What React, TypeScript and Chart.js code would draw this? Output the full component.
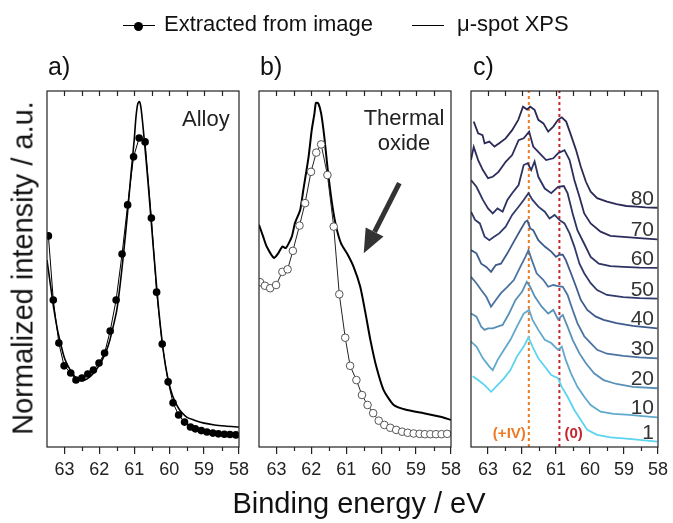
import React, { useEffect, useRef } from "react";
import { Chart, registerables } from "chart.js";
Chart.register(...registerables);

const FONT = "'Liberation Sans', Arial, sans-serif";
const W = 673;
const H = 523;

// axis
const X_MIN = 58;
const X_MAX = 63.5;
const Y_MIN = 0;
const Y_MAX = 100;
const xTickValues = [63, 62, 61, 60, 59, 58];
const topTickValues = [63, 62.5, 62, 61.5, 61, 60.5, 60, 59.5, 59, 58.5];
const minorBottomTicks = [62.5, 61.5, 60.5, 59.5, 58.5];

// panel a) Alloy
const alloyDotE = [63.46, 63.32, 63.16, 63.01, 62.82, 62.67, 62.5, 62.33, 62.17, 62.01, 61.85, 61.69, 61.52, 61.35, 61.19, 61.02, 60.86, 60.69, 60.51, 60.36, 60.2, 60.03, 59.89, 59.73, 59.56, 59.39, 59.25, 59.08, 58.92, 58.75, 58.59, 58.42, 58.26, 58.09];
const alloyDotI = [59.3, 41.3, 29.2, 22.8, 20.8, 18.8, 19.4, 20.5, 21.6, 23.6, 26.4, 32.6, 41.3, 54.2, 68.0, 81.5, 86.8, 85.7, 64.3, 43.5, 28.9, 18.3, 12.4, 9.0, 7.0, 5.6, 5.1, 4.6, 4.2, 3.9, 3.7, 3.6, 3.5, 3.4];
const alloyXpsE = [63.5, 63.4, 63.3, 63.2, 63.1, 63.0, 62.9, 62.8, 62.7, 62.6, 62.5, 62.4, 62.3, 62.2, 62.1, 62.0, 61.9, 61.8, 61.7, 61.6, 61.5, 61.4, 61.3, 61.2, 61.1, 61.0, 60.95, 60.9, 60.85, 60.8, 60.7, 60.6, 60.5, 60.4, 60.3, 60.2, 60.1, 60.0, 59.9, 59.8, 59.7, 59.6, 59.5, 59.3, 59.0, 58.7, 58.4, 58.0];
const alloyXpsI = [52.5, 45.5, 38.5, 32.9, 28.7, 25.0, 22.8, 21.1, 19.7, 18.9, 18.6, 18.9, 19.5, 20.4, 21.6, 23.0, 24.8, 27.0, 30.0, 34.0, 38.5, 46.0, 55.0, 65.0, 76.0, 86.5, 92.8, 96.4, 97.0, 94.7, 84.8, 73.6, 61.5, 49.7, 38.5, 29.5, 22.5, 17.7, 14.3, 12.1, 10.4, 9.3, 8.4, 7.6, 6.7, 6.2, 5.9, 5.6];

// panel b) Thermal oxide
const oxideDotE = [63.47, 63.33, 63.18, 63.01, 62.83, 62.68, 62.53, 62.34, 62.18, 62.01, 61.86, 61.72, 61.54, 61.36, 61.2, 61.03, 60.89, 60.71, 60.55, 60.39, 60.23, 60.07, 59.91, 59.74, 59.57, 59.4, 59.24, 59.07, 58.9, 58.75, 58.59, 58.43, 58.27, 58.11];
const oxideDotI = [46.3, 45.3, 44.6, 45.5, 49.2, 49.9, 55.1, 62.2, 68.5, 77.3, 82.7, 85.0, 76.4, 61.9, 42.9, 30.7, 22.8, 18.8, 14.6, 11.8, 9.5, 7.4, 6.2, 5.4, 4.8, 4.3, 4.0, 3.8, 3.7, 3.6, 3.6, 3.6, 3.6, 3.7];
const oxideXpsE = [63.5, 63.38, 63.28, 63.07, 62.95, 62.83, 62.73, 62.56, 62.47, 62.32, 62.23, 62.08, 61.99, 61.91, 61.87, 61.8, 61.72, 61.63, 61.54, 61.41, 61.29, 61.15, 60.98, 60.79, 60.6, 60.45, 60.31, 60.14, 59.93, 59.64, 59.26, 58.78, 58.3, 58.0];
const oxideXpsI = [62.4, 59.1, 56.3, 53.1, 54.4, 56.3, 55.9, 59.1, 62.9, 66.6, 72.2, 81.5, 89.0, 93.8, 96.7, 96.5, 93.7, 87.2, 78.7, 68.5, 61.9, 57.2, 54.4, 50.6, 45.0, 37.6, 30.1, 22.6, 16.0, 11.8, 10.4, 9.5, 8.5, 7.6];
const arrowFrom = { x: 59.48, y: 74.1 };
const arrowTo = { x: 60.5, y: 54.4 };

// panel c) depth series
const depthLabels = ["80", "70", "60", "50", "40", "30", "20", "10", "1"];
const depthColors = ["#2b2955", "#2c2c5d", "#2e3263", "#303a6c", "#3e5b8c", "#4b73a1", "#5890b8", "#60a8cd", "#5cd4f0"];
const d80E = [63.42, 63.29, 63.16, 63.1, 62.96, 62.81, 62.67, 62.48, 62.29, 62.11, 61.97, 61.85, 61.76, 61.63, 61.52, 61.37, 61.23, 61.08, 60.94, 60.83, 60.7, 60.56, 60.41, 60.27, 60.12, 59.98, 59.79, 59.5, 59.22, 58.93, 58.64, 58.36, 58.02];
const d80I = [91.4, 88.1, 87.6, 85.3, 85.8, 84.4, 85.3, 86.7, 89.0, 91.9, 95.6, 94.8, 95.6, 94.7, 91.9, 90.9, 88.6, 90.0, 91.9, 92.6, 91.4, 87.6, 83.4, 78.7, 74.5, 71.7, 69.9, 68.9, 68.2, 67.7, 67.5, 67.3, 67.2];
const d70E = [63.5, 63.42, 63.29, 63.15, 63.0, 62.86, 62.69, 62.48, 62.29, 62.1, 61.95, 61.79, 61.67, 61.48, 61.29, 61.08, 60.94, 60.75, 60.6, 60.46, 60.31, 60.17, 59.98, 59.69, 59.4, 59.12, 58.83, 58.45, 58.02];
const d70I = [80.6, 84.3, 80.6, 77.8, 75.5, 75.9, 77.3, 80.1, 82.0, 86.2, 86.7, 88.6, 84.4, 82.5, 80.6, 81.1, 82.5, 83.4, 80.6, 75.0, 70.3, 65.6, 62.8, 60.5, 59.3, 59.1, 58.9, 58.6, 58.3];
const d60E = [63.5, 63.34, 63.15, 63.0, 62.86, 62.72, 62.57, 62.43, 62.29, 62.1, 61.95, 61.83, 61.73, 61.63, 61.52, 61.33, 61.14, 60.94, 60.77, 60.66, 60.51, 60.37, 60.17, 59.98, 59.74, 59.4, 59.02, 58.54, 58.02];
const d60I = [75.0, 73.1, 69.4, 67.0, 65.6, 67.0, 66.1, 69.4, 71.3, 73.6, 79.2, 79.7, 77.8, 80.2, 75.9, 72.6, 71.3, 73.1, 73.3, 71.3, 65.6, 60.9, 57.1, 53.4, 51.5, 50.8, 50.6, 50.4, 50.3];
const d50E = [63.5, 63.38, 63.24, 63.1, 62.96, 62.81, 62.67, 62.48, 62.29, 62.1, 61.95, 61.81, 61.69, 61.52, 61.33, 61.19, 61.04, 60.9, 60.75, 60.6, 60.46, 60.31, 60.17, 59.98, 59.79, 59.5, 59.02, 58.54, 58.02];
const d50I = [66.1, 63.8, 62.8, 59.1, 58.1, 59.1, 60.0, 61.9, 65.2, 67.5, 69.4, 71.3, 69.4, 67.5, 66.1, 64.2, 65.2, 63.8, 62.8, 60.0, 56.3, 51.5, 48.8, 46.0, 44.1, 42.7, 42.1, 41.8, 41.7];
const d40E = [63.5, 63.34, 63.2, 63.05, 62.91, 62.77, 62.62, 62.43, 62.24, 62.05, 61.9, 61.84, 61.76, 61.67, 61.52, 61.33, 61.14, 61.0, 60.9, 60.8, 60.71, 60.56, 60.41, 60.27, 60.08, 59.84, 59.6, 59.22, 58.74, 58.02];
const d40I = [55.3, 54.4, 51.5, 50.6, 49.2, 51.1, 51.5, 54.4, 57.7, 60.9, 63.3, 63.6, 61.4, 60.9, 58.1, 56.3, 54.9, 53.4, 54.0, 54.0, 52.5, 48.8, 45.0, 41.3, 38.5, 36.7, 35.7, 34.8, 34.0, 33.3];
const d30E = [63.5, 63.34, 63.2, 63.05, 62.91, 62.77, 62.62, 62.43, 62.24, 62.05, 61.9, 61.81, 61.71, 61.57, 61.37, 61.23, 61.08, 60.94, 60.8, 60.66, 60.51, 60.37, 60.17, 59.98, 59.79, 59.5, 59.02, 58.54, 58.02];
const d30I = [47.8, 46.0, 44.1, 42.2, 39.4, 41.3, 43.2, 45.0, 46.9, 50.6, 53.4, 55.3, 52.5, 48.8, 46.9, 45.0, 45.5, 45.2, 45.0, 42.7, 38.5, 34.8, 31.1, 29.2, 27.3, 26.2, 25.6, 25.2, 24.9];
const d20E = [63.5, 63.34, 63.2, 63.1, 63.0, 62.86, 62.72, 62.57, 62.38, 62.19, 62.0, 61.86, 61.76, 61.62, 61.42, 61.23, 61.08, 60.94, 60.8, 60.66, 60.51, 60.31, 60.12, 59.88, 59.6, 59.22, 58.74, 58.02];
const d20I = [37.5, 36.6, 33.8, 32.9, 33.3, 33.3, 33.8, 34.3, 37.5, 41.3, 43.6, 46.4, 45.0, 42.2, 39.4, 37.5, 38.5, 35.9, 37.1, 33.8, 30.1, 26.3, 23.5, 20.7, 18.8, 17.7, 16.9, 16.5];
const d10E = [63.5, 63.34, 63.15, 62.96, 62.86, 62.72, 62.53, 62.34, 62.15, 61.95, 61.79, 61.69, 61.52, 61.33, 61.14, 60.94, 60.83, 60.71, 60.56, 60.37, 60.17, 59.98, 59.69, 59.31, 58.83, 58.45, 58.02];
const d10I = [29.6, 28.2, 24.9, 22.6, 21.6, 24.4, 27.3, 30.1, 33.8, 37.5, 38.5, 35.7, 32.9, 30.1, 29.2, 27.3, 28.2, 24.4, 20.7, 16.9, 14.1, 11.8, 9.9, 9.3, 9.0, 8.7, 8.3];
const d1E = [63.45, 63.29, 63.1, 62.91, 62.72, 62.53, 62.34, 62.15, 61.95, 61.81, 61.69, 61.52, 61.33, 61.14, 60.94, 60.83, 60.66, 60.46, 60.27, 60.08, 59.79, 59.4, 59.02, 58.54, 58.02];
const d1I = [19.9, 18.8, 17.4, 15.5, 17.4, 19.3, 21.6, 25.4, 28.2, 30.8, 28.2, 24.9, 22.6, 20.2, 19.3, 16.9, 14.1, 10.4, 7.6, 4.8, 3.4, 2.7, 2.4, 2.0, 1.5];
const depthE = [d80E, d70E, d60E, d50E, d40E, d30E, d20E, d10E, d1E];
const depthI = [d80I, d70I, d60I, d50I, d40I, d30I, d20I, d10I, d1I];
const oxidationE = [61.8, 60.9];
const oxidationLabels = ["(+IV)", "(0)"];
const oxidationColors = ["#ee7a22", "#c4262e"];

// layout (pixels)
const PLOT_TOP = 91;
const PLOT_BOTTOM = 447;
const AXIS_H = 34;
const panelLefts = [47, 259, 471];
const PANEL_W = 192;

const pts = (xs: number[], ys: number[]) => xs.map((x, i) => ({ x, y: ys[i] }));

const framePlugin = {
  id: "frame",
  afterDatasetsDraw(chart: any) {
    const { ctx, chartArea: a, scales } = chart;
    const x = scales.x;
    ctx.save();
    ctx.strokeStyle = "#222";
    ctx.lineWidth = 1.2;
    ctx.strokeRect(a.left, a.top, a.right - a.left, a.bottom - a.top);
    ctx.beginPath();
    for (const v of topTickValues) {
      const px = Math.round(x.getPixelForValue(v)) + 0.5;
      ctx.moveTo(px, a.top);
      ctx.lineTo(px, a.top + 5);
    }
    for (const v of minorBottomTicks) {
      const px = Math.round(x.getPixelForValue(v)) + 0.5;
      ctx.moveTo(px, a.bottom);
      ctx.lineTo(px, a.bottom + 4);
    }
    ctx.stroke();
    ctx.restore();
  },
};

const arrowPlugin = {
  id: "arrow",
  afterDatasetsDraw(chart: any) {
    const { ctx, scales } = chart;
    const x0 = scales.x.getPixelForValue(arrowFrom.x);
    const y0 = scales.y.getPixelForValue(arrowFrom.y);
    const x1 = scales.x.getPixelForValue(arrowTo.x);
    const y1 = scales.y.getPixelForValue(arrowTo.y);
    const ang = Math.atan2(y1 - y0, x1 - x0);
    const headL = 24;
    const headW = 10;
    const bx = x1 - headL * Math.cos(ang);
    const by = y1 - headL * Math.sin(ang);
    ctx.save();
    ctx.strokeStyle = "#333";
    ctx.fillStyle = "#333";
    ctx.lineWidth = 5;
    ctx.beginPath();
    ctx.moveTo(x0, y0);
    ctx.lineTo(bx, by);
    ctx.stroke();
    ctx.beginPath();
    ctx.moveTo(x1, y1);
    ctx.lineTo(bx + headW * Math.sin(ang), by - headW * Math.cos(ang));
    ctx.lineTo(bx - headW * Math.sin(ang), by + headW * Math.cos(ang));
    ctx.closePath();
    ctx.fill();
    ctx.restore();
  },
};

const depthLabelPlugin = {
  id: "depthLabels",
  afterDatasetsDraw(chart: any) {
    const { ctx, chartArea: a, scales } = chart;
    ctx.save();
    ctx.font = `21px ${FONT}`;
    ctx.fillStyle = "#333";
    ctx.textAlign = "right";
    ctx.textBaseline = "alphabetic";
    depthLabels.forEach((lab, i) => {
      const ys = depthI[i];
      const py = scales.y.getPixelForValue(ys[ys.length - 1]);
      ctx.fillText(lab, a.right - 4, py - 3);
    });
    ctx.font = `bold 15px ${FONT}`;
    oxidationE.forEach((e, i) => {
      const px = scales.x.getPixelForValue(e);
      ctx.fillStyle = oxidationColors[i];
      ctx.textAlign = i === 0 ? "right" : "left";
      ctx.fillText(oxidationLabels[i], i === 0 ? px - 3 : px + 5, a.bottom - 9);
    });
    ctx.restore();
  },
};

function baseOptions(left: number) {
  return {
    responsive: false,
    animation: false as const,
    events: [] as any[],
    layout: {
      padding: { left, right: W - left - PANEL_W, top: PLOT_TOP, bottom: H - PLOT_BOTTOM - AXIS_H },
    },
    plugins: { legend: { display: false }, tooltip: { enabled: false } },
    scales: {
      x: {
        type: "linear" as const,
        min: X_MIN,
        max: X_MAX,
        reverse: true,
        afterBuildTicks: (s: any) => {
          s.ticks = xTickValues.map((v) => ({ value: v }));
        },
        afterFit: (s: any) => {
          s.height = AXIS_H;
        },
        grid: { display: true, drawOnChartArea: false, drawTicks: true, tickLength: 7, color: "#222", lineWidth: 1.2 },
        border: { display: false },
        ticks: { font: { family: FONT, size: 18 }, color: "#222", padding: 5, maxRotation: 0, autoSkip: false },
      },
      y: { display: false, min: Y_MIN, max: Y_MAX },
    },
  };
}

export default function App() {
  const refA = useRef<HTMLCanvasElement>(null);
  const refB = useRef<HTMLCanvasElement>(null);
  const refC = useRef<HTMLCanvasElement>(null);

  useEffect(() => {
    document.body.style.margin = "0";
    const charts: Chart[] = [];
    charts.push(
      new Chart(refA.current!, {
        type: "line",
        data: {
          datasets: [
            {
              data: pts(alloyDotE, alloyDotI),
              borderColor: "#000",
              borderWidth: 1,
              pointRadius: 3.8,
              pointBackgroundColor: "#000",
              pointBorderColor: "#000",
              pointBorderWidth: 0,
              tension: 0,
            },
            {
              data: pts(alloyXpsE, alloyXpsI),
              borderColor: "#000",
              borderWidth: 1.6,
              pointRadius: 0,
              tension: 0.3,
            },
          ],
        },
        options: baseOptions(panelLefts[0]) as any,
        plugins: [framePlugin],
      })
    );
    charts.push(
      new Chart(refB.current!, {
        type: "line",
        data: {
          datasets: [
            {
              data: pts(oxideDotE, oxideDotI),
              borderColor: "#222",
              borderWidth: 1,
              pointRadius: 3.8,
              pointBackgroundColor: "#fff",
              pointBorderColor: "#555",
              pointBorderWidth: 1,
              tension: 0,
            },
            {
              data: pts(oxideXpsE, oxideXpsI),
              borderColor: "#000",
              borderWidth: 2,
              pointRadius: 0,
              tension: 0.2,
            },
          ],
        },
        options: baseOptions(panelLefts[1]) as any,
        plugins: [framePlugin, arrowPlugin],
      })
    );
    const cSets: any[] = depthE.map((es, i) => ({
      data: pts(es, depthI[i]),
      borderColor: depthColors[i],
      borderWidth: 1.8,
      pointRadius: 0,
      tension: 0,
    }));
    oxidationE.forEach((e, i) => {
      cSets.push({
        data: [
          { x: e, y: Y_MIN },
          { x: e, y: Y_MAX },
        ],
        borderColor: oxidationColors[i],
        borderWidth: 2,
        borderDash: [3, 3],
        pointRadius: 0,
      });
    });
    charts.push(
      new Chart(refC.current!, {
        type: "line",
        data: { datasets: cSets },
        options: baseOptions(panelLefts[2]) as any,
        plugins: [framePlugin, depthLabelPlugin],
      })
    );
    return () => charts.forEach((c) => c.destroy());
  }, []);

  const txt = (s: React.CSSProperties): React.CSSProperties => ({
    position: "absolute",
    fontFamily: FONT,
    whiteSpace: "nowrap",
    lineHeight: 1,
    color: "#111",
    ...s,
  });
  const cv: React.CSSProperties = { position: "absolute", left: 0, top: 0 };

  return (
    <div style={{ position: "absolute", left: 0, top: 0, width: W, height: H, background: "#fff", overflow: "hidden" }}>
      <canvas ref={refA} width={W} height={H} style={cv} />
      <canvas ref={refB} width={W} height={H} style={cv} />
      <canvas ref={refC} width={W} height={H} style={cv} />
      {/* legend */}
      <div style={{ position: "absolute", left: 123, top: 25, width: 32, height: 1.4, background: "#000" }} />
      <div style={{ position: "absolute", left: 134, top: 21.5, width: 9, height: 9, borderRadius: "50%", background: "#000" }} />
      <div style={txt({ left: 164, top: 13, fontSize: 22 })}>Extracted from image</div>
      <div style={{ position: "absolute", left: 412, top: 25, width: 32, height: 1.4, background: "#000" }} />
      <div style={txt({ left: 457, top: 13, fontSize: 22 })}>μ-spot XPS</div>
      {/* panel labels */}
      <div style={txt({ left: 48, top: 54, fontSize: 25 })}>a)</div>
      <div style={txt({ left: 260, top: 54, fontSize: 25 })}>b)</div>
      <div style={txt({ left: 473, top: 54, fontSize: 25 })}>c)</div>
      <div style={txt({ left: 182, top: 108, fontSize: 22, color: "#222" })}>Alloy</div>
      <div style={txt({ left: 404, top: 105, fontSize: 22, color: "#222", transform: "translateX(-50%)", textAlign: "center", lineHeight: "25px" })}>
        Thermal
        <br />
        oxide
      </div>
      {/* axis titles */}
      <div style={txt({ left: 359, top: 489, fontSize: 29, transform: "translateX(-50%)" })}>Binding energy / eV</div>
      <div style={txt({ left: 23, top: 268, fontSize: 29, transform: "translate(-50%, -50%) rotate(-90deg)" })}>Normalized intensity / a.u.</div>
    </div>
  );
}
